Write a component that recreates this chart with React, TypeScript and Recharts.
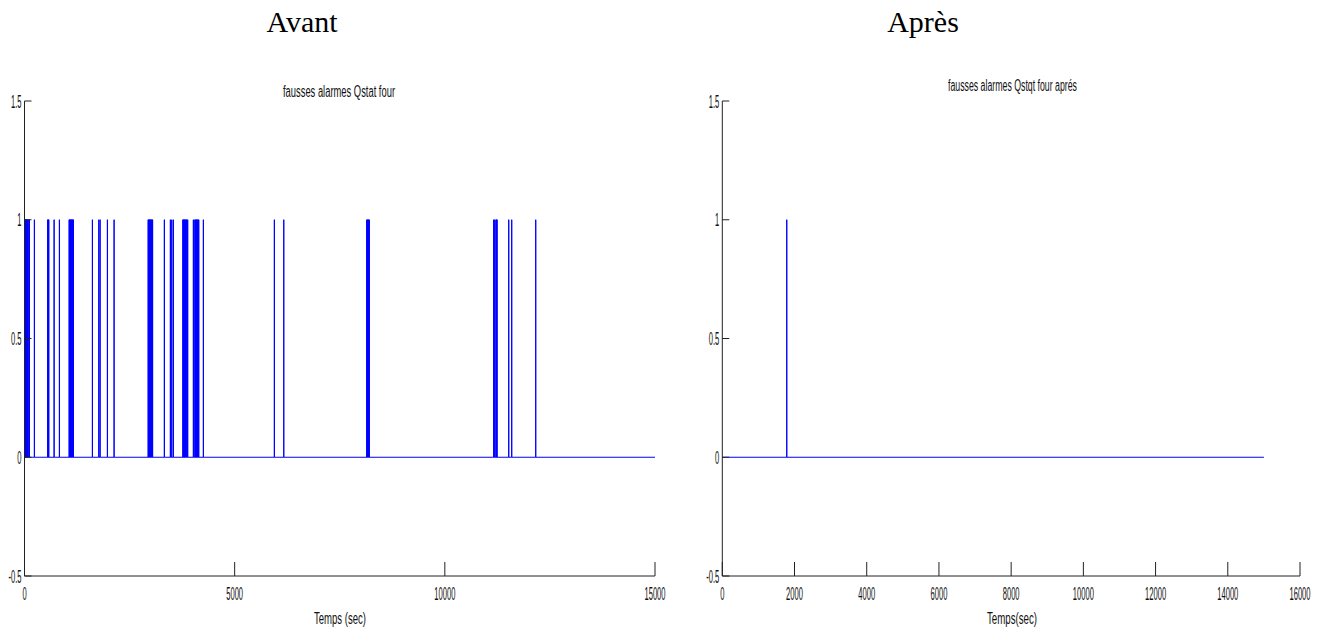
import { LineChart, Line, XAxis, YAxis } from 'recharts';

const alarmsBefore = [
  0, 10, 20, 30, 40, 55, 70, 85,
  114, 233,
  550, 562, 575,
  702, 828,
  1060, 1072, 1085, 1098, 1110, 1122, 1135, 1148, 1160,
  1613, 1765, 1796, 1970, 2129,
  2940, 2952, 2965, 2978, 2990, 3003, 3016, 3030, 3045,
  3325, 3468, 3501, 3539,
  3765, 3778, 3790, 3803, 3815, 3830, 3845, 3860, 3880,
  4015,
  4050, 4065, 4080, 4095, 4110, 4125, 4143,
  4253,
  5942, 6166,
  8140, 8155, 8170, 8185, 8200,
  11160, 11185, 11215, 11228, 11240,
  11518, 11589, 12160,
];

// alarm instants (sec) on the "Après" plot
const alarmsAfter = [1783];

const ALARM_DURATION = 5; // sec, one sample
const END_TIME = 15000;

const yTicks = [-0.5, 0, 0.5, 1, 1.5];
const xTicksBefore = [0, 5000, 10000, 15000];
const xTicksAfter = [0, 2000, 4000, 6000, 8000, 10000, 12000, 14000, 16000];

const toSignal = (times: number[]) => {
  const pts: { t: number; v: number }[] = [];
  times.forEach(t => {
    pts.push({ t, v: 0 }, { t, v: 1 }, { t: t + ALARM_DURATION, v: 1 }, { t: t + ALARM_DURATION, v: 0 });
  });
  pts.push({ t: END_TIME, v: 0 });
  if (pts[0].t > 0) pts.unshift({ t: 0, v: 0 });
  return pts;
};

const beforeData = toSignal(alarmsBefore);
const afterData = toSignal(alarmsAfter);

const FONT = '"Liberation Sans", Arial, sans-serif';
const AXIS = '#222';

const XTick = (props: any) => {
  const { x, y, payload } = props;
  return (
    <text transform={`translate(${x},${y}) scale(0.42,1)`} textAnchor="middle" fontFamily={FONT} fontSize={18} fill="#111">
      {payload.value}
    </text>
  );
};

const YTick = (props: any) => {
  const { x, y, payload } = props;
  return (
    <text transform={`translate(${x},${y}) scale(0.42,1)`} textAnchor="end" dy={6.5} fontFamily={FONT} fontSize={18} fill="#111">
      {payload.value}
    </text>
  );
};

function AlarmPlot({ data, xMax, xTicks, yAxisWidth, width }: any) {
  return (
    <LineChart width={width} height={632} data={data} margin={{ top: 101, right: 25, bottom: 0, left: 0 }}>
      <XAxis
        dataKey="t"
        type="number"
        domain={[0, xMax]}
        ticks={xTicks}
        interval={0}
        height={56}
        tickSize={-14}
        tickMargin={38}
        stroke={AXIS}
        tick={<XTick />}
      />
      <YAxis
        type="number"
        domain={[-0.5, 1.5]}
        ticks={yTicks}
        interval={0}
        width={yAxisWidth}
        tickSize={-7}
        tickMargin={10}
        stroke={AXIS}
        tick={<YTick />}
      />
      <Line type="linear" dataKey="v" stroke="#0000ff" strokeWidth={1} dot={false} isAnimationActive={false} />
    </LineChart>
  );
}

export default function App() {
  return (
    <div style={{ position: 'absolute', left: 0, top: 0, width: 1325, height: 632, background: '#fff' }}>
      <div style={{ position: 'absolute', left: 0, top: 0 }}>
        <AlarmPlot data={beforeData} xMax={15000} xTicks={xTicksBefore} yAxisWidth={24.5} width={680} />
      </div>
      <div style={{ position: 'absolute', left: 680, top: 0 }}>
        <AlarmPlot data={afterData} xMax={16000} xTicks={xTicksAfter} yAxisWidth={42.3} width={645} />
      </div>
      <svg width={1325} height={632} style={{ position: 'absolute', left: 0, top: 0, pointerEvents: 'none' }}>
        <text x={302} y={32} textAnchor="middle" fontFamily='"Liberation Serif", "Times New Roman", serif' fontSize={30} fill="#000">Avant</text>
        <text x={923} y={32} textAnchor="middle" fontFamily='"Liberation Serif", "Times New Roman", serif' fontSize={30} fill="#000">Après</text>
        <text x={283} y={97} fontFamily={FONT} fontSize={16} fill="#111" textLength={112} lengthAdjust="spacingAndGlyphs">fausses alarmes Qstat four</text>
        <text x={948} y={91} fontFamily={FONT} fontSize={16} fill="#111" textLength={129} lengthAdjust="spacingAndGlyphs">fausses alarmes Qstqt four aprés</text>
        <text x={314} y={624} fontFamily={FONT} fontSize={16} fill="#111" textLength={52} lengthAdjust="spacingAndGlyphs">Temps (sec)</text>
        <text x={987} y={624} fontFamily={FONT} fontSize={16} fill="#111" textLength={50} lengthAdjust="spacingAndGlyphs">Temps(sec)</text>
      </svg>
    </div>
  );
}
